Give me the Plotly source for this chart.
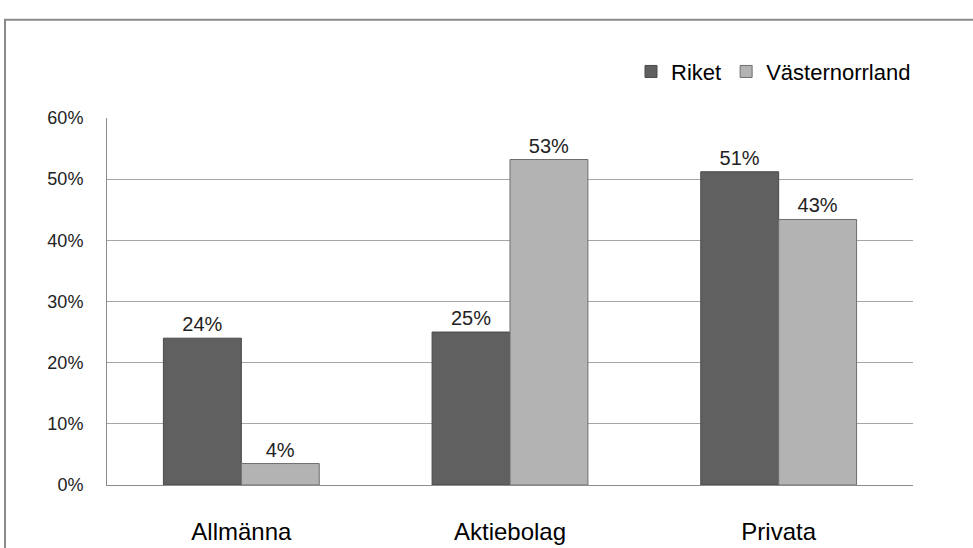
import plotly.graph_objects as go

W, H = 973, 548

categories = ["Allmänna", "Aktiebolag", "Privata"]
riket = [0.24, 0.25, 0.512]
vasternorrland = [0.0351, 0.532, 0.434]
y_ticks = [0, 0.1, 0.2, 0.3, 0.4, 0.5, 0.6]
y_tick_labels = ["0%", "10%", "20%", "30%", "40%", "50%", "60%"]

FONT = "Liberation Sans, Arial, sans-serif"

# plot area in pixels
px_left, px_right = 107, 913
px_top, px_bottom = 112, 493

fig = go.Figure()
fig.add_trace(go.Bar(
    name="Riket", x=categories, y=riket,
    marker=dict(color="#606060", line=dict(color="#4a4a4a", width=1)),
    texttemplate="%{y:.0%}", textposition="outside", cliponaxis=False,
    textfont=dict(family=FONT, size=20, color="#222"),
))
fig.add_trace(go.Bar(
    name="Västernorrland", x=categories, y=vasternorrland,
    marker=dict(color="#b3b3b3", line=dict(color="#6e6e6e", width=1)),
    texttemplate="%{y:.0%}", textposition="outside", cliponaxis=False,
    textfont=dict(family=FONT, size=20, color="#222"),
))

fig.update_layout(
    width=W, height=H,
    margin=dict(l=0, r=0, t=0, b=0),
    paper_bgcolor="white", plot_bgcolor="white",
    barmode="group", bargap=0.42, bargroupgap=0,
    font=dict(family=FONT, color="#000"),
    legend=dict(
        orientation="h", x=916 / W, xanchor="right", y=1 - 64 / H, yanchor="middle",
        font=dict(family=FONT, size=22, color="#000"),
        itemwidth=30, traceorder="normal", bgcolor="rgba(0,0,0,0)",
    ),
    xaxis=dict(
        domain=[px_left / W, px_right / W],
        showgrid=False, showline=True, linecolor="#8c8c8c", linewidth=1,
        ticks="", tickfont=dict(family=FONT, size=24, color="#000"),
        ticklabelstandoff=25,
    ),
    yaxis=dict(
        domain=[1 - px_bottom / H, 1 - px_top / H],
        range=[0, 0.6], tickvals=y_ticks, ticktext=y_tick_labels,
        showgrid=True, gridcolor="#a6a6a6", gridwidth=1,
        showline=True, linecolor="#8c8c8c", linewidth=1,
        ticks="", ticklabelstandoff=19,
        tickfont=dict(family=FONT, size=18, color="#222"),
        zeroline=False,
    ),
    shapes=[dict(
        type="rect", xref="paper", yref="paper",
        x0=5 / W, x1=1.05, y0=-0.05, y1=1 - 10 / H,
        line=dict(color="#8a8a8a", width=2), fillcolor="rgba(0,0,0,0)", layer="below",
    )],
)

fig.write_html("out.html")
